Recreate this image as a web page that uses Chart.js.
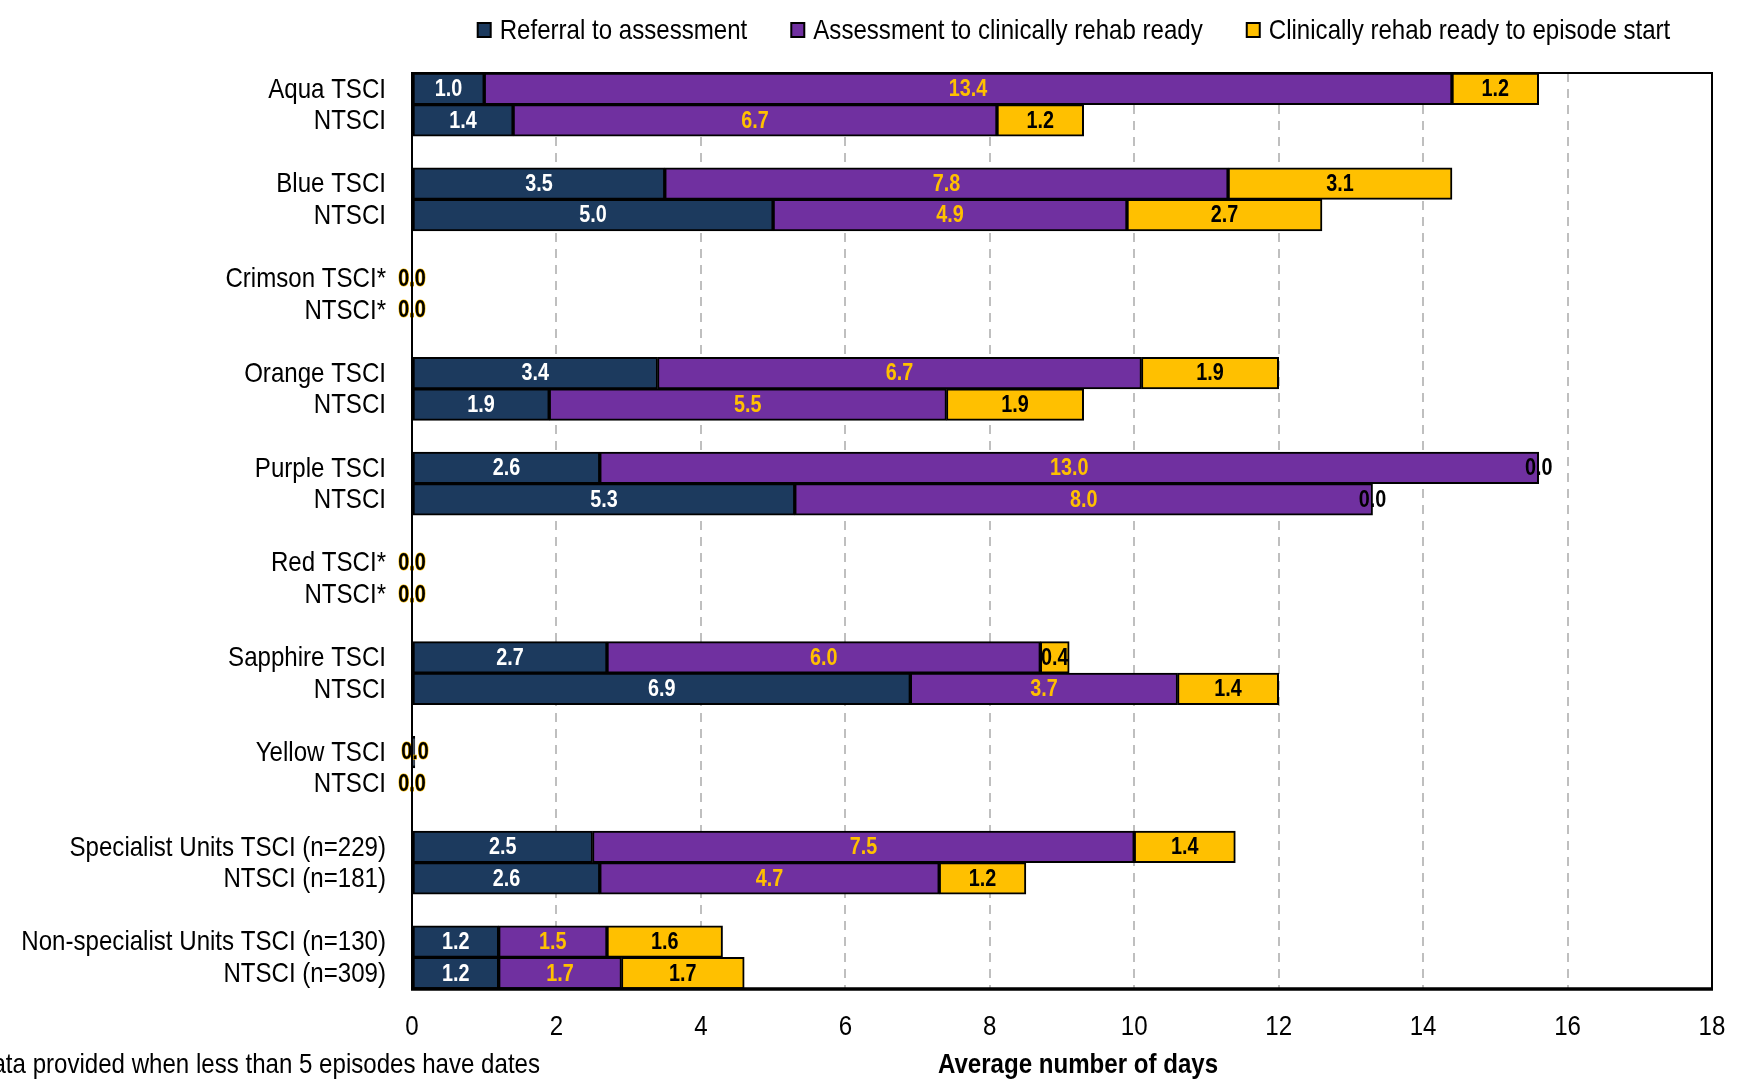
<!DOCTYPE html>
<html>
<head>
<meta charset="utf-8">
<script src="https://cdn.jsdelivr.net/npm/chart.js@4.4.0/dist/chart.umd.min.js"></script>
<style>
  body { margin: 0; background: #fff; }
</style>
</head>
<body>
<canvas id="grafico" width="1739" height="1088"></canvas>
<script>
// DATA
const categorias = [
  'Aqua TSCI', 'NTSCI', '',
  'Blue TSCI', 'NTSCI', '',
  'Crimson TSCI*', 'NTSCI*', '',
  'Orange TSCI', 'NTSCI', '',
  'Purple TSCI', 'NTSCI', '',
  'Red TSCI*', 'NTSCI*', '',
  'Sapphire TSCI', 'NTSCI', '',
  'Yellow TSCI', 'NTSCI', '',
  'Specialist Units TSCI (n=229)', 'NTSCI (n=181)', '',
  'Non-specialist Units TSCI (n=130)', 'NTSCI (n=309)'
];
const referral = [1.0, 1.4, null, 3.5, 5.0, null, 0, 0, null, 3.4, 1.9, null, 2.6, 5.3, null, 0, 0, null, 2.7, 6.9, null, 0.04, 0, null, 2.5, 2.6, null, 1.2, 1.2];
const assessment = [13.4, 6.7, null, 7.8, 4.9, null, 0, 0, null, 6.7, 5.5, null, 13.0, 8.0, null, 0, 0, null, 6.0, 3.7, null, 0, 0, null, 7.5, 4.7, null, 1.5, 1.7];
const rehabReady = [1.2, 1.2, null, 3.1, 2.7, null, 0, 0, null, 1.9, 1.9, null, 0, 0, null, 0, 0, null, 0.4, 1.4, null, 0, 0, null, 1.4, 1.2, null, 1.6, 1.7];
const xTicks = [0, 2, 4, 6, 8, 10, 12, 14, 16, 18];
const nombresSeries = ['Referral to assessment', 'Assessment to clinically rehab ready', 'Clinically rehab ready to episode start'];
const tituloX = 'Average number of days';
const nota = '*No data provided when less than 5 episodes have dates';

const FUENTE = "'Liberation Sans', Arial, sans-serif";
const ANGOSTO = 0.86; // no narrow font installed, so squeeze the text
const colores = ['#1C3A5E', '#7030A0', '#FFC000'];
const coloresTexto = ['#FFFFFF', '#FFC000', '#000000'];

// texto angosto (tipo Arial Narrow)
function texto(ctx, txt, x, y, align, font, color, stroke) {
  ctx.save();
  ctx.font = font;
  ctx.textAlign = align;
  ctx.textBaseline = 'middle';
  ctx.translate(x, y);
  ctx.scale(ANGOSTO, 1);
  if (stroke) {
    ctx.strokeStyle = stroke;
    ctx.lineWidth = 1.2;
    ctx.strokeText(txt, 0, 0);
  }
  ctx.fillStyle = color;
  ctx.fillText(txt, 0, 0);
  ctx.restore();
}

// ETIQUETAS DE LAS BARRAS
const etiquetas = {
  id: 'etiquetas',
  afterDatasetsDraw(chart) {
    const ctx = chart.ctx;
    chart.data.datasets.forEach((ds, i) => {
      chart.getDatasetMeta(i).data.forEach((bar, j) => {
        const v = ds.data[j];
        if (v === null) return;
        const x = (bar.x + bar.base) / 2;
        const borde = (i === 1 && v === 0) ? '#FFC000' : null;
        texto(ctx, v.toFixed(1), x, bar.y + 1, 'center', 'bold 23px ' + FUENTE, coloresTexto[i], borde);
      });
    });
  }
};

// MARCO, EJES, LEYENDA Y NOTA
const marco = {
  id: 'marco',
  afterDraw(chart) {
    const ctx = chart.ctx;
    const a = chart.chartArea;
    const sx = chart.scales.x;
    const sy = chart.scales.y;
    ctx.save();
    ctx.strokeStyle = '#000';
    ctx.lineWidth = 2;
    ctx.strokeRect(a.left, a.top, a.right - a.left, a.bottom - a.top);
    ctx.lineWidth = 3.5;
    ctx.beginPath();
    ctx.moveTo(a.left - 1, a.bottom);
    ctx.lineTo(a.right + 1, a.bottom);
    ctx.stroke();
    ctx.restore();

    const f = '28px ' + FUENTE;
    categorias.forEach((c, i) => {
      if (c) texto(ctx, c, a.left - 26, sy.getPixelForTick(i) + 1, 'right', f, '#000');
    });
    xTicks.forEach(v => texto(ctx, String(v), sx.getPixelForValue(v), 1027, 'center', f, '#000'));
    texto(ctx, tituloX, 1078, 1065, 'center', 'bold 28px ' + FUENTE, '#000');
    texto(ctx, nota, 540, 1065, 'right', f, '#000');

    // leyenda
    ctx.save();
    ctx.font = f;
    const anchos = nombresSeries.map(n => ctx.measureText(n).width * ANGOSTO);
    const total = anchos.reduce((s, w) => s + w + 22, 0) + 44 * (nombresSeries.length - 1);
    let x = 1074 - total / 2;
    nombresSeries.forEach((n, i) => {
      ctx.fillStyle = colores[i];
      ctx.fillRect(x, 23, 13, 14);
      ctx.strokeStyle = '#000';
      ctx.lineWidth = 2;
      ctx.strokeRect(x, 23, 13, 14);
      texto(ctx, n, x + 22, 31, 'left', f, '#000');
      x += 22 + anchos[i] + 44;
    });
    ctx.restore();
  }
};

const ctx = document.getElementById('grafico').getContext('2d');
const grafico = new Chart(ctx, {
  type: 'bar',
  data: {
    labels: categorias,
    datasets: [referral, assessment, rehabReady].map((d, i) => ({
      label: nombresSeries[i],
      data: d,
      backgroundColor: colores[i],
      borderColor: '#000',
      borderWidth: 2,
      borderSkipped: false,
      barPercentage: 1,
      categoryPercentage: 1
    }))
  },
  options: {
    indexAxis: 'y',
    responsive: false,
    animation: false,
    layout: { padding: { left: 0, right: 27, top: 73, bottom: 0 } },
    plugins: {
      tooltip: { enabled: false },
      legend: { display: false }
    },
    scales: {
      x: {
        stacked: true,
        min: 0,
        max: 18,
        afterBuildTicks: (s) => { s.ticks = xTicks.map(v => ({ value: v })); },
        afterFit: (s) => { s.height = 99; },
        grid: {
          drawTicks: false,
          color: (c) => (c.tick && (c.tick.value === 0 || c.tick.value === 18)) ? 'rgba(0,0,0,0)' : '#BFBFBF',
          lineWidth: 2
        },
        border: { display: false, dash: [9, 7] },
        ticks: { display: false }
      },
      y: {
        stacked: true,
        afterFit: (s) => { s.width = 412; },
        grid: { display: false },
        border: { display: false },
        ticks: { display: false, autoSkip: false }
      }
    }
  },
  plugins: [etiquetas, marco]
});
</script>
</body>
</html>
